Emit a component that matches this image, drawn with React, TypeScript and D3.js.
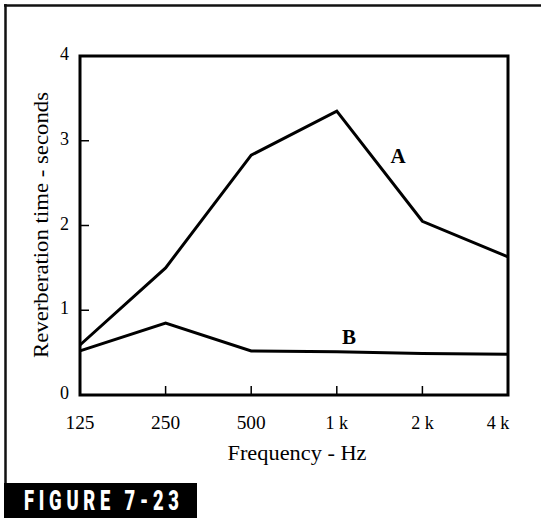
import React from "react";
import * as d3 from "d3";

const frequencies = [125, 250, 500, 1000, 2000, 4000];
const tickLabels = ["125", "250", "500", "1 k", "2 k", "4 k"];
const seriesA = [0.59, 1.5, 2.83, 3.35, 2.05, 1.63];
const seriesB = [0.52, 0.85, 0.52, 0.51, 0.49, 0.48];
const yTicks = [0, 1, 2, 3, 4];

const W = 541;
const H = 518;
const plot = { left: 80, right: 508, top: 56, bottom: 395 };

export default function App() {
  const x = d3.scaleLog().base(2).domain([125, 4000]).range([plot.left, plot.right]);
  const y = d3.scaleLinear().domain([0, 4]).range([plot.bottom, plot.top]);
  const line = d3
    .line<number>()
    .x((_, i) => x(frequencies[i]))
    .y((d) => y(d));

  const serif = "'Liberation Serif', 'Times New Roman', serif";
  const sx = 0.68;

  return (
    <svg width={W} height={H} style={{ position: "absolute", left: 0, top: 0 }}>
      <rect x={0} y={0} width={W} height={H} fill="#fff" />
      {/* outer frame */}
      <line x1={4} y1={5.5} x2={W} y2={5.5} stroke="#111" strokeWidth={2.5} />
      <line x1={5.5} y1={4} x2={5.5} y2={484} stroke="#111" strokeWidth={2.5} />

      {/* plot frame */}
      <rect
        x={plot.left}
        y={plot.top}
        width={plot.right - plot.left}
        height={plot.bottom - plot.top}
        fill="none"
        stroke="#000"
        strokeWidth={3}
      />

      {/* y ticks */}
      {yTicks.map((t) => (
        <g key={"y" + t}>
          {t > 0 && t < 4 && (
            <line x1={plot.left} x2={plot.left + 9} y1={y(t)} y2={y(t)} stroke="#000" strokeWidth={1.5} />
          )}
          <text
            x={64.5}
            y={y(t) - 2}
            textAnchor="middle"
            dominantBaseline="central"
            fontFamily={serif}
            fontSize={18}
            fill="#000"
          >
            {t}
          </text>
        </g>
      ))}

      {/* x ticks */}
      {frequencies.map((f, i) => (
        <g key={"x" + f}>
          {i > 0 && i < frequencies.length - 1 && (
            <line x1={x(f)} x2={x(f)} y1={plot.bottom} y2={plot.bottom - 9} stroke="#000" strokeWidth={1.5} />
          )}
          <text
            x={i === frequencies.length - 1 ? x(f) - 10 : x(f)}
            y={429}
            textAnchor="middle"
            fontFamily={serif}
            fontSize={18}
            textLength={tickLabels[i].includes("k") ? undefined : 29}
            lengthAdjust="spacingAndGlyphs"
            fill="#000"
          >
            {tickLabels[i]}
          </text>
        </g>
      ))}

      {/* axis titles */}
      <text
        x={297}
        y={460}
        textAnchor="middle"
        fontFamily={serif}
        fontSize={21}
        textLength={139}
        lengthAdjust="spacingAndGlyphs"
        fill="#000"
      >
        Frequency - Hz
      </text>
      <text
        transform="translate(48,225) rotate(-90)"
        textAnchor="middle"
        fontFamily={serif}
        fontSize={20}
        textLength={266}
        lengthAdjust="spacingAndGlyphs"
        fill="#000"
      >
        Reverberation time - seconds
      </text>

      {/* series */}
      <path d={line(seriesA) || ""} fill="none" stroke="#000" strokeWidth={3} strokeLinejoin="miter" />
      <path d={line(seriesB) || ""} fill="none" stroke="#000" strokeWidth={3} strokeLinejoin="miter" />

      <text x={398} y={163} textAnchor="middle" fontFamily={serif} fontWeight="bold" fontSize={21} fill="#000">
        A
      </text>
      <text x={349} y={344} textAnchor="middle" fontFamily={serif} fontWeight="bold" fontSize={21} fill="#000">
        B
      </text>

      {/* figure label */}
      <rect x={4} y={483} width={193} height={35} fill="#000" />
      <text
        transform={`scale(${sx},1)`}
        x={24 / sx}
        y={510}
        fontFamily="'Roboto', 'Liberation Sans', sans-serif"
        fontWeight={900}
        fontSize={27}
        fill="#fff"
        textLength={155 / sx}
        lengthAdjust="spacing"
      >
        FIGURE 7-23
      </text>
    </svg>
  );
}
